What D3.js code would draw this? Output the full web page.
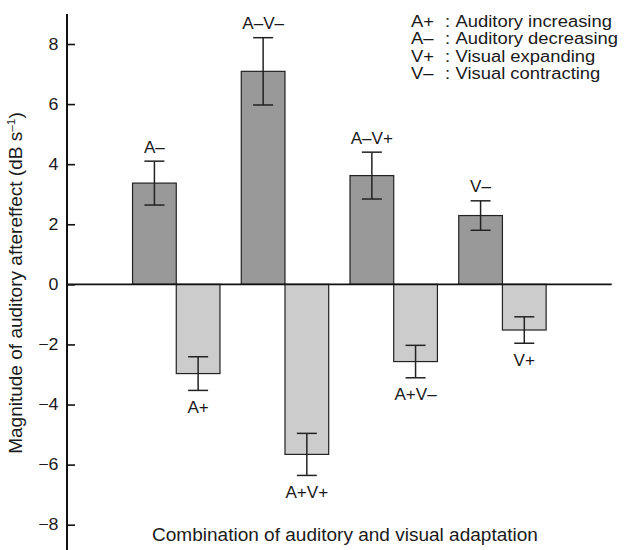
<!DOCTYPE html>
<html><head><meta charset="utf-8">
<script src="https://cdn.jsdelivr.net/npm/d3@7"></script>
<style>body{margin:0;background:#fff}svg{display:block}text{font-family:"Liberation Sans",Arial,sans-serif;fill:#1a1a1a}</style>
</head><body>
<svg id="c" width="626" height="550"></svg>
<script>
const groups = [0, 1, 2, 3];
const decLabels = ["A–", "A–V–", "A–V+", "V–"];
const decValues = [3.37, 7.09, 3.62, 2.29];
const decErrors = [0.73, 1.12, 0.78, 0.49];
const incLabels = ["A+", "A+V+", "A+V–", "V+"];
const incValues = [-2.97, -5.66, -2.57, -1.52];
const incErrors = [0.56, 0.70, 0.54, 0.44];
const yTicks = [-8, -6, -4, -2, 0, 2, 4, 6, 8];
const legendKeys = ["A+", "A–", "V+", "V–"];
const legendTexts = ["Auditory increasing", "Auditory decreasing", "Visual expanding", "Visual contracting"];

const svg = d3.select("#c");
const x0 = d3.scaleBand().domain(groups).range([67, 611.7]).paddingInner(0.196).paddingOuter(0.603);
const x1 = d3.scaleBand().domain(["dec", "inc"]).range([0, x0.bandwidth()]).padding(0);
const y = d3.scaleLinear().domain([-8, 8]).range([524.7, 44]);

const bars = [];
groups.forEach(g => {
  bars.push({g, s: "dec", v: decValues[g], e: decErrors[g], label: decLabels[g]});
  bars.push({g, s: "inc", v: incValues[g], e: incErrors[g], label: incLabels[g]});
});
const color = {dec: "#999999", inc: "#cccccc"};

// bars
svg.selectAll("rect.bar").data(bars).join("rect")
  .attr("class", "bar")
  .attr("x", d => x0(d.g) + x1(d.s))
  .attr("width", x1.bandwidth())
  .attr("y", d => y(Math.max(0, d.v)))
  .attr("height", d => Math.abs(y(d.v) - y(0)))
  .attr("fill", d => color[d.s])
  .attr("stroke", "#222").attr("stroke-width", 1.2);

// error bars
const cx = d => x0(d.g) + x1(d.s) + x1.bandwidth() / 2;
const eb = svg.selectAll("g.eb").data(bars).join("g").attr("class", "eb")
  .attr("stroke", "#222").attr("stroke-width", 1.5);
eb.append("line").attr("x1", cx).attr("x2", cx).attr("y1", d => y(d.v + d.e)).attr("y2", d => y(d.v - d.e));
eb.append("line").attr("x1", d => cx(d) - 10).attr("x2", d => cx(d) + 10).attr("y1", d => y(d.v + d.e)).attr("y2", d => y(d.v + d.e));
eb.append("line").attr("x1", d => cx(d) - 10).attr("x2", d => cx(d) + 10).attr("y1", d => y(d.v - d.e)).attr("y2", d => y(d.v - d.e));

// bar labels (slightly widened glyphs like the reference)
svg.selectAll("text.bl").data(bars).join("text").attr("class", "bl")
  .attr("transform", d => `translate(${cx(d)},${d.v > 0 ? y(d.v + d.e) - 8.5 : y(d.v - d.e) + 22.5}) scale(1.07,1)`)
  .attr("text-anchor", "middle").attr("font-size", 16)
  .text(d => d.label);

// zero line
svg.append("line").attr("x1", 67).attr("x2", 611.7).attr("y1", y(0)).attr("y2", y(0))
  .attr("stroke", "#111").attr("stroke-width", 1.6);

// y axis
const ax = svg.append("g").attr("transform", "translate(67,0)")
  .call(d3.axisLeft(y).tickValues(yTicks).tickSizeInner(-8).tickSizeOuter(0).tickPadding(8.5));
ax.select(".domain").remove();
ax.selectAll(".tick line").attr("stroke", "#111").attr("stroke-width", 1.6);
ax.selectAll(".tick text")
  .attr("transform", "translate(-8.5,0) scale(1.08,1) translate(8.5,0)")
  .attr("font-size", 16.5).attr("font-family", "Liberation Sans, Arial, sans-serif").attr("fill", "#1a1a1a");
svg.append("line").attr("x1", 67).attr("x2", 67).attr("y1", 14).attr("y2", 550)
  .attr("stroke", "#111").attr("stroke-width", 2);

// y label
const yl = svg.append("text").attr("transform", "translate(22,283) rotate(-90) scale(1.04,1)")
  .attr("text-anchor", "middle").attr("font-size", 18.3);
yl.append("tspan").text("Magnitude of auditory aftereffect (dB s");
yl.append("tspan").attr("font-size", 11.5).attr("dy", -7).text("–1");
yl.append("tspan").attr("dy", 7).text(")");

// x label
svg.append("text").attr("transform", "translate(345,541) scale(1.04,1)").attr("text-anchor", "middle")
  .attr("font-size", 18.3).text("Combination of auditory and visual adaptation");

// legend
const sx = 1.18;
const lg = svg.selectAll("g.lg").data(legendKeys).join("g").attr("class", "lg")
  .attr("transform", (d, i) => `translate(411,${26.5 + i * 17.5}) scale(${sx},1)`);
lg.append("text").attr("x", 0).attr("font-size", 15.6).text(d => d);
lg.append("text").attr("x", (445 - 411) / sx).attr("font-size", 15.6).text(":");
lg.append("text").attr("x", (455.5 - 411) / sx).attr("font-size", 15.6).text((d, i) => legendTexts[i]);
</script>
</body></html>
